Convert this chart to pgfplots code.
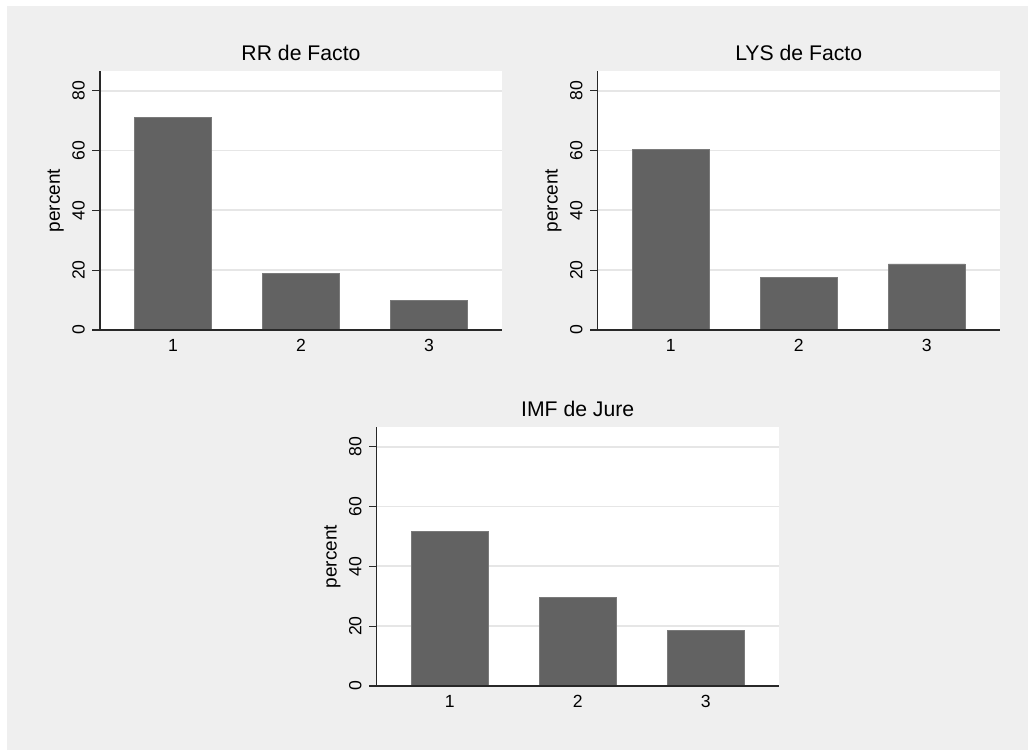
\documentclass[border=0pt]{standalone}
\usepackage{pgfplots}
\pgfplotsset{compat=1.18}
\usepackage{fontspec}
\setmainfont{Liberation Sans}
\definecolor{bg}{RGB}{239,239,239}
\definecolor{barc}{RGB}{98,98,98}
\definecolor{gridc}{RGB}{230,230,230}
\definecolor{axc}{RGB}{40,40,40}

\pgfplotsset{stpanel/.style={
  scale only axis, width=201pt, height=129.5pt,
  anchor=south west,
  xmin=0.43, xmax=3.57, ymin=0, ymax=86.6,
  axis lines*=left,
  axis line style={axc, line width=0.6pt},
  axis background/.style={fill=white},
  xtick={1,2,3}, xticklabels={1,2,3},
  ytick={0,20,40,60,80}, yticklabels={0,20,40,60,80},
  tick align=outside, major tick length=3.85pt,
  xtick style={draw=none},
  ytick style={axc, line width=0.6pt},
  ymajorgrids, grid style={gridc, line width=0.9pt},
  xticklabel style={font=\fontsize{8.8}{10}\selectfont, anchor=north, inner sep=0pt, yshift=-0.8pt},
  yticklabel style={font=\fontsize{8.8}{10}\selectfont, xshift=-3.8pt, rotate=90, anchor=base, inner sep=0pt},
  ylabel={percent},
  every axis y label/.style={at={(axis description cs:-0.1,0.5)}, rotate=90, anchor=base, font=\fontsize{9.5}{11}\selectfont},
  every axis title/.style={at={(axis description cs:0.5,1)}, anchor=base, yshift=5pt, font=\fontsize{10.6}{12}\selectfont},
  ybar, bar width=0.6,
}}

\begin{document}
\begin{tikzpicture}[x=1pt,y=1pt]
\useasboundingbox (0,0) rectangle (514,375);
\fill[white] (0,0) rectangle (514,375);
\fill[bg] (3.5,0) rectangle (514,372);

\begin{axis}[stpanel, at={(50pt,210pt)}, title={RR de Facto}]
\addplot[fill=barc, draw=barc!85!white, line width=0.4pt] coordinates {(1,71.2) (2,19.0) (3,9.8)};
\draw[axc, line width=0.6pt] (rel axis cs:0,0) -- (rel axis cs:1,0);
\end{axis}

\begin{axis}[stpanel, at={(298.85pt,210pt)}, title={LYS de Facto}]
\addplot[fill=barc, draw=barc!85!white, line width=0.4pt] coordinates {(1,60.3) (2,17.6) (3,22.1)};
\draw[axc, line width=0.6pt] (rel axis cs:0,0) -- (rel axis cs:1,0);
\end{axis}

\begin{axis}[stpanel, at={(188.35pt,32pt)}, title={IMF de Jure}]
\addplot[fill=barc, draw=barc!85!white, line width=0.4pt] coordinates {(1,51.8) (2,29.7) (3,18.5)};
\draw[axc, line width=0.6pt] (rel axis cs:0,0) -- (rel axis cs:1,0);
\end{axis}
\end{tikzpicture}
\end{document}
